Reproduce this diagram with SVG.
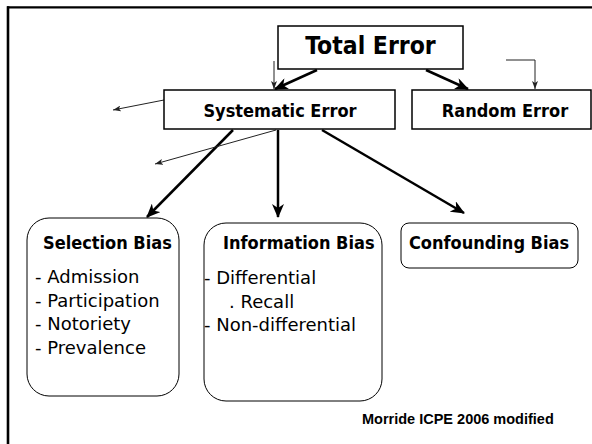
<svg xmlns="http://www.w3.org/2000/svg" width="592" height="444" viewBox="0 0 592 444">
<style>
.box{fill:#fff;stroke:#000;stroke-width:1.5}
.rbox{fill:#fff;stroke:#000;stroke-width:1}
.title{font-family:"DejaVu Sans Condensed","DejaVu Sans",sans-serif;font-weight:bold;font-size:18px;fill:#000}
.item{font-family:"DejaVu Sans",sans-serif;font-size:18px;fill:#000}
.thick{fill:none;stroke:#000;stroke-width:2.5;marker-end:url(#big)}
.thin{fill:none;stroke:#222;stroke-width:1;marker-end:url(#small)}
</style>
<defs>
<marker id="big" markerUnits="userSpaceOnUse" viewBox="0 0 14 12" markerWidth="14" markerHeight="12" refX="13" refY="6" orient="auto">
<path d="M0,0 L14,6 L0,12 L4,6 Z" fill="#000"/>
</marker>
<marker id="small" markerUnits="userSpaceOnUse" viewBox="0 0 8 6" markerWidth="8" markerHeight="6" refX="8" refY="3" orient="auto">
<path d="M0,0 L8,3 L0,6 L2,3 Z" fill="#222"/>
</marker>
</defs>
<rect width="592" height="444" fill="#fff"/>
<g id="frame" fill="none" stroke="#000">
<line x1="7" y1="7.3" x2="592" y2="7.3" stroke-width="2.2"/>
<line x1="8" y1="6.3" x2="8" y2="444" stroke-width="2.6"/>
</g>
<g id="connectors">
<line class="thick" x1="317" y1="70" x2="275" y2="89"/>
<line class="thick" x1="426" y1="70" x2="468" y2="89"/>
<line class="thin" x1="274" y1="61" x2="274" y2="89"/>
<polyline class="thin" points="506,60 535,60 535,89"/>
<line class="thin" x1="164" y1="100" x2="113" y2="110"/>
<line class="thick" x1="233" y1="130" x2="147" y2="217"/>
<line class="thin" x1="276" y1="130" x2="155" y2="164"/>
<line class="thick" x1="278" y1="130" x2="278" y2="217"/>
<line class="thick" x1="322" y1="130" x2="464" y2="213"/>
</g>
<g id="total-error">
<rect class="box" x="278" y="26" width="185" height="43"/>
<text x="370.5" y="54" text-anchor="middle" style="font-family:'DejaVu Sans Condensed','DejaVu Sans',sans-serif;font-weight:bold;font-size:24.5px">Total Error</text>
</g>
<g id="systematic-error">
<rect class="box" x="164" y="90" width="231" height="39"/>
<text class="title" x="280" y="117" text-anchor="middle">Systematic Error</text>
</g>
<g id="random-error">
<rect class="box" x="412" y="90" width="179" height="39"/>
<text class="title" x="505" y="117" text-anchor="middle">Random Error</text>
</g>
<g id="selection-bias">
<rect class="rbox" x="27" y="218" width="152" height="178" rx="22" ry="22"/>
<text class="title" x="43" y="249">Selection Bias</text>
<text class="item" x="35" y="283">- Admission</text>
<text class="item" x="35" y="307">- Participation</text>
<text class="item" x="35" y="330">- Notoriety</text>
<text class="item" x="35" y="354">- Prevalence</text>
</g>
<g id="information-bias">
<rect class="rbox" x="204" y="223" width="178" height="178" rx="22" ry="22"/>
<text class="title" x="223" y="249">Information Bias</text>
<text class="item" x="204" y="284">- Differential</text>
<text class="item" x="229" y="308">. Recall</text>
<text class="item" x="204" y="331">- Non-differential</text>
</g>
<g id="confounding-bias">
<rect class="rbox" x="401" y="223" width="177" height="45" rx="8" ry="8"/>
<text class="title" x="489" y="249" text-anchor="middle">Confounding Bias</text>
</g>
<g id="credit">
<text x="362" y="424" style="font-family:'Liberation Sans',Arial,sans-serif;font-weight:bold;font-size:14.5px">Morride ICPE 2006 modified</text>
</g>
</svg>
